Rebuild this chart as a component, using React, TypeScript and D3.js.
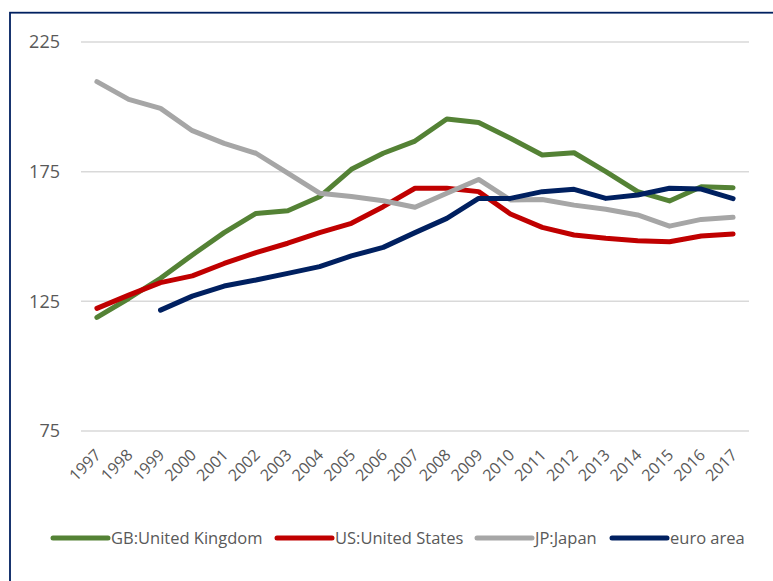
import * as d3 from 'd3'

// Index series, 1997-2017
const years = ['1997', '1998', '1999', '2000', '2001', '2002', '2003', '2004', '2005', '2006', '2007',
  '2008', '2009', '2010', '2011', '2012', '2013', '2014', '2015', '2016', '2017']

const ukValues = [118.8, 126.1, 133.9, 142.9, 151.5, 158.9, 159.9, 165.3, 175.9, 182.1, 186.8,
  195.3, 194.0, 187.9, 181.4, 182.3, 175.0, 167.3, 163.7, 169.2, 168.8]
const usValues = [122.3, 127.4, 132.2, 134.8, 139.6, 143.8, 147.4, 151.5, 155.1, 161.5, 168.6,
  168.6, 167.3, 158.7, 153.5, 150.6, 149.3, 148.4, 148.0, 150.2, 151.0]
const jpValues = [209.7, 202.9, 199.4, 190.8, 185.9, 182.1, 174.4, 166.7, 165.4, 163.8, 161.3,
  166.7, 172.0, 164.1, 164.3, 162.1, 160.5, 158.3, 154.0, 156.6, 157.4]
const euroValues = [null, null, 121.6, 127.0, 130.9, 133.2, 135.8, 138.4, 142.5, 145.8, 151.5,
  157.0, 164.7, 164.7, 167.3, 168.2, 164.7, 166.0, 168.6, 168.3, 164.6]

const yTicks = [75, 125, 175, 225]

const series = [
  { name: 'GB:United Kingdom', color: '#548235', values: ukValues },
  { name: 'US:United States', color: '#C00000', values: usValues },
  { name: 'JP:Japan', color: '#A6A6A6', values: jpValues },
  { name: 'euro area', color: '#002060', values: euroValues },
]

const legendX = [53, 277, 477, 612]

export default function App() {
  const width = 773
  const height = 581
  const margin = { top: 42, left: 81 }
  const innerWidth = 749 - margin.left
  const innerHeight = 431 - margin.top

  const x = d3.scaleBand().domain(years).range([0, innerWidth])
  const y = d3.scaleLinear().domain([75, 225]).range([innerHeight, 0])

  const line = d3
    .line<number | null>()
    .defined((d) => d != null)
    .x((_, i) => (x(years[i]) ?? 0) + x.bandwidth() / 2)
    .y((d) => y(d as number))

  const font = '"Open Sans", sans-serif'
  const textColor = '#595959'

  return (
    <svg width={width} height={height} style={{ position: 'absolute', left: 0, top: 0 }} fontFamily={font}>
      <rect x={0} y={0} width={width} height={height} fill="#fff" />
      <rect x={10} y={12.7} width={800} height={600} fill="none" stroke="#002060" strokeWidth={1.8} />

      <g transform={`translate(${margin.left},${margin.top})`}>
        {/* grid + y ticks */}
        {yTicks.map((t) => (
          <g key={t}>
            <line x1={0} x2={innerWidth} y1={y(t)} y2={y(t)} stroke="#D9D9D9" strokeWidth={1.5} />
            <text x={-21} y={y(t)} dy="0.35em" textAnchor="end" fill={textColor} fontSize={18}>
              {t}
            </text>
          </g>
        ))}

        {/* x labels */}
        {years.map((yr) => {
          const cx = (x(yr) ?? 0) + x.bandwidth() / 2
          return (
            <text
              key={yr}
              transform={`translate(${cx + 5},${innerHeight + 25}) rotate(-45)`}
              textAnchor="end"
              fill={textColor}
              fontSize={16}
            >
              {yr}
            </text>
          )
        })}

        {/* lines */}
        {series.map((s) => (
          <path
            key={s.name}
            d={line(s.values) ?? ''}
            fill="none"
            stroke={s.color}
            strokeWidth={5}
            strokeLinejoin="round"
            strokeLinecap="round"
          />
        ))}
      </g>

      {/* legend */}
      {series.map((s, i) => (
        <g key={s.name} transform={`translate(${legendX[i]},538)`}>
          <line x1={0} x2={55} y1={0} y2={0} stroke={s.color} strokeWidth={5} strokeLinecap="round" />
          <text x={58} y={0} dy="0.35em" fill={textColor} fontSize={16.5}>
            {s.name}
          </text>
        </g>
      ))}
    </svg>
  )
}
